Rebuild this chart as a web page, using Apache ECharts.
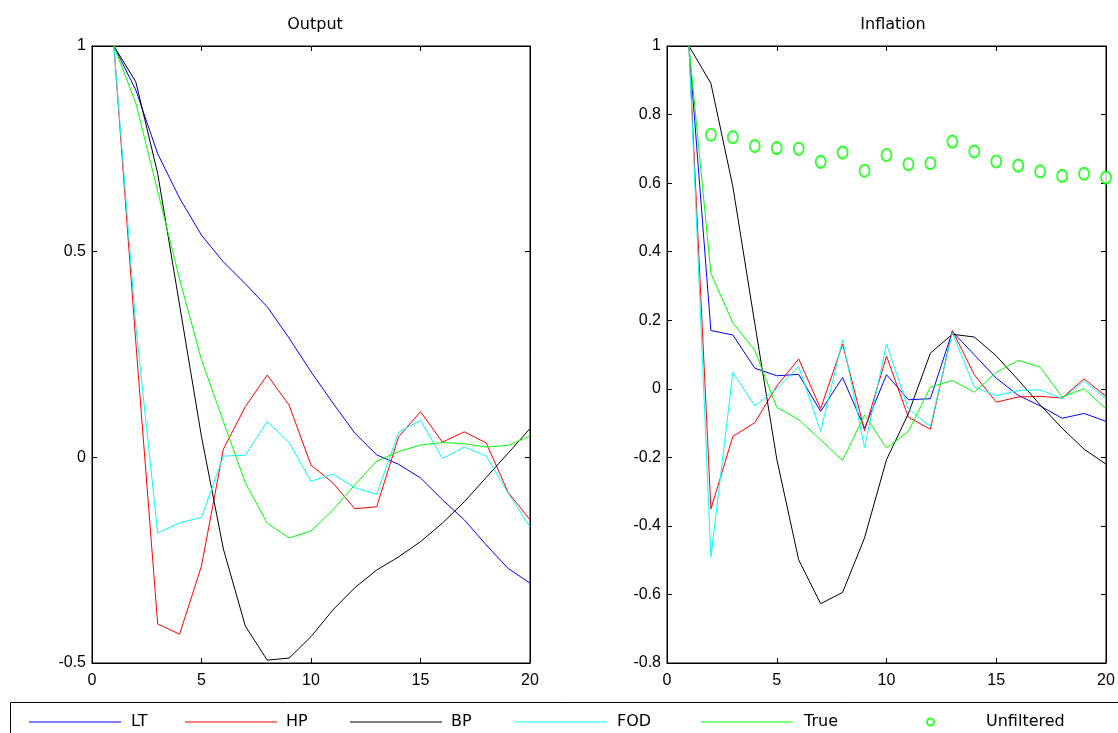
<!DOCTYPE html>
<html>
<head>
<meta charset="utf-8">
<script src="https://cdn.jsdelivr.net/npm/echarts@6/dist/echarts.min.js"></script>
<style>
  html, body { margin: 0; padding: 0; background: #fff; }
  #chart { width: 1118px; height: 733px; }
</style>
</head>
<body>
<div id="chart"></div>
<script>
// lags 1..20
const lags = [1, 2, 3, 4, 5, 6, 7, 8, 9, 10, 11, 12, 13, 14, 15, 16, 17, 18, 19, 20];

// Output panel
const outputLT = [1, 0.893, 0.738, 0.63, 0.54, 0.475, 0.422, 0.366, 0.29, 0.208, 0.132, 0.059, 0.006, -0.017, -0.05, -0.103, -0.152, -0.213, -0.27, -0.306];
const outputHP = [1, 0.28, -0.405, -0.43, -0.264, 0.02, 0.123, 0.2, 0.127, -0.019, -0.062, -0.125, -0.12, 0.05, 0.111, 0.037, 0.062, 0.035, -0.085, -0.152];
const outputBP = [1, 0.913, 0.69, 0.37, 0.05, -0.223, -0.41, -0.493, -0.488, -0.436, -0.371, -0.317, -0.274, -0.242, -0.205, -0.16, -0.108, -0.049, 0.01, 0.07];
const outputFOD = [1, 0.32, -0.184, -0.159, -0.146, 0.003, 0.005, 0.087, 0.036, -0.058, -0.041, -0.074, -0.09, 0.061, 0.09, -0.003, 0.025, 0.003, -0.087, -0.169];
const outputTrue = [1, 0.861, 0.647, 0.433, 0.237, 0.087, -0.062, -0.16, -0.196, -0.179, -0.128, -0.067, -0.009, 0.014, 0.03, 0.036, 0.033, 0.025, 0.029, 0.052];

// Inflation panel
const inflLT = [1, 0.17, 0.157, 0.06, 0.038, 0.042, -0.066, 0.033, -0.115, 0.041, -0.032, -0.029, 0.167, 0.099, 0.031, -0.019, -0.05, -0.086, -0.072, -0.095];
const inflHP = [1, -0.351, -0.139, -0.099, 0.008, 0.087, -0.058, 0.13, -0.122, 0.095, -0.083, -0.118, 0.17, 0.041, -0.039, -0.024, -0.022, -0.027, 0.029, -0.022];
const inflBP = [1, 0.891, 0.59, 0.19, -0.205, -0.499, -0.627, -0.594, -0.435, -0.207, -0.072, 0.104, 0.159, 0.151, 0.096, 0.026, -0.047, -0.115, -0.176, -0.22];
const inflFOD = [1, -0.491, 0.048, -0.05, 0.0, 0.065, -0.124, 0.143, -0.171, 0.131, -0.059, -0.11, 0.164, 0.005, -0.02, -0.005, -0.003, -0.029, 0.023, -0.029];
const inflTrue = [1, 0.337, 0.192, 0.112, -0.054, -0.09, -0.149, -0.209, -0.076, -0.173, -0.124, 0.005, 0.024, -0.01, 0.048, 0.083, 0.063, -0.024, 0.0, -0.059];
const inflUnfiltered = [null, 0.741, 0.734, 0.708, 0.702, 0.70, 0.662, 0.689, 0.636, 0.682, 0.655, 0.658, 0.721, 0.692, 0.663, 0.651, 0.634, 0.621, 0.627, 0.616];

const xTicks = [0, 5, 10, 15, 20];
const outputYTicks = [-0.5, 0, 0.5, 1];
const inflYTicks = [-0.8, -0.6, -0.4, -0.2, 0, 0.2, 0.4, 0.6, 0.8, 1];

const FONT = 'Liberation Sans, Arial, sans-serif';
const WIDE = 'DejaVu Sans, sans-serif';

function pairs(values) {
  return lags.map((x, i) => [x, values[i]]);
}

function xAxis(grid, pos, labels) {
  return {
    type: 'value', gridIndex: grid, position: pos,
    min: xTicks[0], max: xTicks[xTicks.length - 1], interval: 5,
    axisLine: { show: true, onZero: false, lineStyle: { color: '#000', width: 1 } },
    axisTick: { show: true, inside: true, length: 5, lineStyle: { color: '#000' } },
    axisLabel: { show: labels, color: '#000', fontSize: 16, fontFamily: FONT, margin: 10 },
    splitLine: { show: false }
  };
}

function yAxis(grid, pos, ticks, step, labels) {
  return {
    type: 'value', gridIndex: grid, position: pos,
    min: ticks[0], max: ticks[ticks.length - 1], interval: step,
    axisLine: { show: true, onZero: false, lineStyle: { color: '#000', width: 1 } },
    axisTick: { show: true, inside: true, length: 5, lineStyle: { color: '#000' } },
    axisLabel: { show: labels, color: '#000', fontSize: 16, fontFamily: FONT, margin: 6 },
    splitLine: { show: false }
  };
}

function line(name, color, grid, values) {
  return {
    type: 'line', name: name,
    xAxisIndex: grid * 2, yAxisIndex: grid * 2,
    data: pairs(values),
    symbol: 'none',
    lineStyle: { color: color, width: 1 },
    itemStyle: { color: color }
  };
}

const colors = { LT: '#0000ff', HP: '#ff0000', BP: '#000000', FOD: '#00ffff', True: '#00ff00' };

const legendPos = [
  { name: 'LT', left: 29, gap: 5 },
  { name: 'HP', left: 185, gap: 4 },
  { name: 'BP', left: 350, gap: 4 },
  { name: 'FOD', left: 515, gap: 5 },
  { name: 'True', left: 701, gap: 6 }
];

const chart = echarts.init(document.getElementById('chart'));
chart.setOption({
  backgroundColor: '#fff',
  animation: false,
  grid: [
    { left: 92, top: 46, width: 438, height: 617, show: true, borderColor: '#000', borderWidth: 1 },
    { left: 667, top: 46, width: 439, height: 617, show: true, borderColor: '#000', borderWidth: 1 }
  ],
  xAxis: [xAxis(0, 'bottom', true), xAxis(0, 'top', false), xAxis(1, 'bottom', true), xAxis(1, 'top', false)],
  yAxis: [
    yAxis(0, 'left', outputYTicks, 0.5, true), yAxis(0, 'right', outputYTicks, 0.5, false),
    yAxis(1, 'left', inflYTicks, 0.2, true), yAxis(1, 'right', inflYTicks, 0.2, false)
  ],
  graphic: [
    { type: 'text', x: 315, y: 25, style: { text: 'Output', fill: '#000', font: '16px ' + WIDE, align: 'center', verticalAlign: 'middle' } },
    { type: 'text', x: 893, y: 25, style: { text: 'Inflation', fill: '#000', font: '16px ' + WIDE, align: 'center', verticalAlign: 'middle' } },
    { type: 'rect', z: 0, shape: { x: 10.5, y: 702.5, width: 1120, height: 40 }, style: { fill: '#fff', stroke: '#000', lineWidth: 1 } }
  ],
  legend: legendPos.map(p => ({
    data: [{ name: p.name, icon: 'rect' }], left: p.left, top: 714, padding: 0,
    itemWidth: 92, itemHeight: 1, z: 10,
    textStyle: { color: '#000', fontSize: 16, fontFamily: WIDE, padding: [0, 0, 0, p.gap] }
  })).concat([{
    data: ['Unfiltered'], left: 926, top: 714, padding: 0, itemWidth: 7, itemHeight: 10, z: 10,
    textStyle: { color: '#000', fontSize: 16, fontFamily: WIDE, padding: [0, 0, 0, 47] }
  }]),
  series: [
    line('LT', colors.LT, 0, outputLT),
    line('HP', colors.HP, 0, outputHP),
    line('BP', colors.BP, 0, outputBP),
    line('FOD', colors.FOD, 0, outputFOD),
    line('True', colors.True, 0, outputTrue),
    line('LT', colors.LT, 1, inflLT),
    line('HP', colors.HP, 1, inflHP),
    line('BP', colors.BP, 1, inflBP),
    line('FOD', colors.FOD, 1, inflFOD),
    line('True', colors.True, 1, inflTrue),
    {
      type: 'scatter', name: 'Unfiltered',
      xAxisIndex: 2, yAxisIndex: 2,
      data: pairs(inflUnfiltered).filter(d => d[1] !== null),
      symbol: 'emptyCircle', symbolSize: [10, 12], clip: false,
      itemStyle: { color: '#00ff00', borderColor: '#00ff00', borderWidth: 1 }
    }
  ]
});
</script>
</body>
</html>
